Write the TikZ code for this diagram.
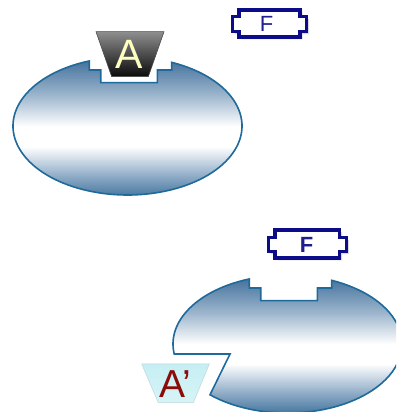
\documentclass[tikz,border=0pt]{standalone}
\usepackage{fontspec}
\setmainfont{Liberation Sans}

% colours
\definecolor{ellborder}{HTML}{1F6A9A}
\definecolor{elltop}{HTML}{46739E}
\definecolor{ellhi}{HTML}{9DB6CD}
\definecolor{elllo}{HTML}{87A6C3}
\definecolor{ellbot}{HTML}{2C6590}
\definecolor{navyline}{HTML}{0C0C88}
\definecolor{ftext}{HTML}{1E1E8C}
\definecolor{keytop}{HTML}{8E8E8E}
\definecolor{keybot}{HTML}{0A0A0A}
\definecolor{keytext}{HTML}{FFFFC0}
\definecolor{primefill}{HTML}{C6EFF3}
\definecolor{primetext}{HTML}{8B0A0A}

% vertical blue-white-blue body shading
\pgfdeclareverticalshading{bodyshade}{100bp}{%
  color(0bp)=(ellbot); color(25bp)=(ellbot); color(34bp)=(elllo);
  color(45bp)=(white); color(52bp)=(white); color(63bp)=(ellhi);
  color(75bp)=(elltop); color(100bp)=(elltop)}

\tikzset{
  body/.style={draw=ellborder, line width=1.6pt, shading=bodyshade},
  tagline/.style={draw=navyline, line width=3.2pt, fill=white, line join=miter},
  tagshadow/.style={fill=gray!30},
  ftag/.style={inner sep=0pt, text=ftext, font=\fontsize{22}{22}\selectfont},
  keyshape/.style={draw=black!70, line width=0.6pt, top color=keytop, bottom color=keybot},
  primeshape/.style={draw=primefill!80!gray, line width=0.5pt, top color=primefill, bottom color=primefill!70!white},
  letter/.style={inner sep=0pt}
}

\begin{document}
\begin{tikzpicture}[x=1pt, y=1pt]
\clip (0,0) rectangle (396,412);
\fill[white] (0,0) rectangle (396,412);

% upper body with the stepped socket on top
\begin{scope}[shift={(127.5,286)}]
  \path[body] (109.5:114.5 and 69) arc[start angle=109.5, end angle=427.3, x radius=114.5, y radius=69]
    -- (44.2,56) -- (29.8,56) -- (29.8,43.3) -- (-26.8,43.3) -- (-26.8,56) -- (-38.2,56) -- cycle;
\end{scope}

% lower body: same socket, plus a slanted cut at the lower left
\begin{scope}[shift={(287.5,68)}]
  \path[body] (109.5:114.5 and 69) arc[start angle=109.5, end angle=188.3, x radius=114.5, y radius=69]
    -- (-57.5,-10) -- (227.4:114.5 and 69)
    arc[start angle=227.4, end angle=427.3, x radius=114.5, y radius=69]
    -- (44.2,56) -- (29.8,56) -- (29.8,43.3) -- (-26.8,43.3) -- (-26.8,56) -- (-38.2,56) -- cycle;
\end{scope}

% dark key A sitting in the upper socket
\path[keyshape] (96,380.3) -- (164,380.3) -- (148.3,335.3) -- (111.7,335.3) -- cycle;
\node[letter, text=keytext, font=\fontsize{41}{41}\selectfont] (keyA) at (129,357.5) {A};

% pale key A' beside the lower cut
\path[primeshape] (141.7,48) -- (209.3,48) -- (193.3,9.3) -- (158.3,9.3) -- cycle;
\node[letter, text=primetext, font=\fontsize{39}{39}\selectfont] (keyAp) at (175.5,27.5) {A’};

% upper F tag
\path[tagshadow, shift={(2.5,-2.5)}] (239,402) -- (300,402) -- (300,395.3) -- (306.7,395.3) -- (306.7,380.3)
  -- (300,380.3) -- (300,375) -- (239,375) -- (239,380.3) -- (232.3,380.3) -- (232.3,395.3) -- (239,395.3) -- cycle;
\path[tagline] (239,402) -- (300,402) -- (300,395.3) -- (306.7,395.3) -- (306.7,380.3)
  -- (300,380.3) -- (300,375) -- (239,375) -- (239,380.3) -- (232.3,380.3) -- (232.3,395.3) -- (239,395.3) -- cycle;
\node[ftag] (tagF1) at (266.7,388) {F};

% lower F tag
\path[tagshadow, shift={(2.5,-2.5)}] (275,182) -- (339.5,182) -- (339.5,174.3) -- (346.7,174.3) -- (346.7,160.3)
  -- (339.5,160.3) -- (339.5,154) -- (275,154) -- (275,160.3) -- (268.3,160.3) -- (268.3,174.3) -- (275,174.3) -- cycle;
\path[tagline] (275,182) -- (339.5,182) -- (339.5,174.3) -- (346.7,174.3) -- (346.7,160.3)
  -- (339.5,160.3) -- (339.5,154) -- (275,154) -- (275,160.3) -- (268.3,160.3) -- (268.3,174.3) -- (275,174.3) -- cycle;
\node[ftag, font=\fontsize{22}{22}\selectfont\bfseries] (tagF2) at (306.7,167) {F};
\end{tikzpicture}
\end{document}
